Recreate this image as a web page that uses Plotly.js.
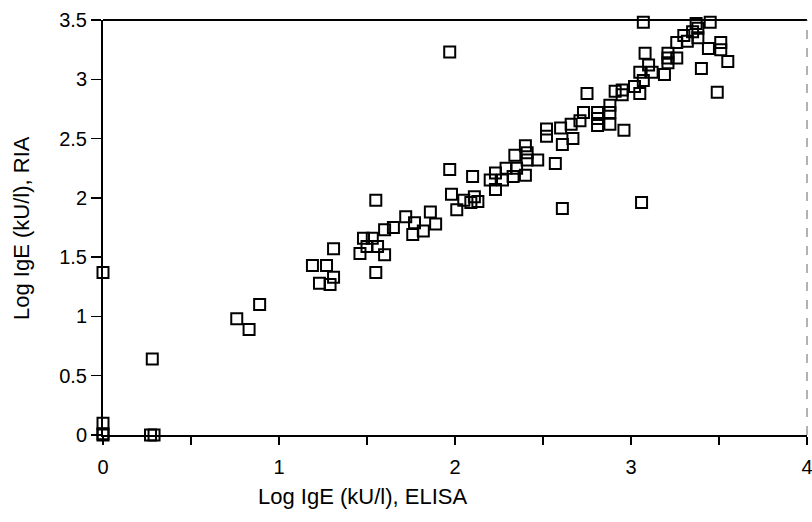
<!DOCTYPE html>
<html>
<head>
<meta charset="utf-8">
<script src="https://cdn.plot.ly/plotly-3.0.1.min.js"></script>
<style>html,body{margin:0;padding:0;background:#fff;}#chart{width:812px;height:522px;}</style>
</head>
<body>
<div id="chart"></div>
<script>
// Log IgE ELISA (x) vs Log IgE RIA (y)
const elisa = [0, 0, 0, 0, 0.28, 0.27, 0.29, 0.76, 0.83, 0.89,
  1.19, 1.27, 1.31, 1.31, 1.23, 1.29, 1.55, 1.48, 1.53, 1.50,
  1.56, 1.46, 1.55, 1.60, 1.60, 1.65, 1.72, 1.77, 1.76, 1.82,
  1.86, 1.89, 1.97, 1.98, 2.01, 2.05, 2.09, 2.11, 2.13, 2.10,
  2.23, 2.20, 2.23, 2.27, 2.29, 2.33, 2.35, 2.40, 2.34, 2.40,
  2.41, 2.41, 2.47, 2.57, 2.52, 2.52, 2.60, 2.61, 2.67, 2.66,
  2.71, 2.73, 2.81, 2.81, 2.81, 2.88, 2.96, 2.88, 2.88, 2.75,
  2.91, 2.95, 2.95, 3.05, 3.02, 3.07, 3.05, 3.12, 3.19, 3.10,
  3.08, 3.21, 3.21, 3.26, 3.21, 3.40, 3.49, 3.55, 3.51, 3.44,
  3.51, 3.26, 3.32, 3.38, 3.30, 3.35, 3.38, 3.37, 3.45, 3.07,
  1.97, 3.06, 2.61];
const ria = [1.37, 0.10, 0.01, 0.0, 0.64, 0.0, 0.0, 0.98, 0.89, 1.10,
  1.43, 1.43, 1.57, 1.33, 1.28, 1.27, 1.98, 1.66, 1.66, 1.59,
  1.59, 1.53, 1.37, 1.52, 1.73, 1.75, 1.84, 1.79, 1.69, 1.72,
  1.88, 1.78, 2.24, 2.03, 1.90, 1.98, 1.96, 2.01, 1.97, 2.18,
  2.07, 2.15, 2.21, 2.15, 2.25, 2.18, 2.25, 2.19, 2.36, 2.44,
  2.38, 2.32, 2.32, 2.29, 2.58, 2.52, 2.59, 2.45, 2.50, 2.62,
  2.65, 2.72, 2.72, 2.67, 2.61, 2.62, 2.57, 2.78, 2.72, 2.88,
  2.90, 2.91, 2.87, 2.88, 2.94, 2.99, 3.06, 3.06, 3.04, 3.12,
  3.22, 3.22, 3.18, 3.18, 3.14, 3.09, 2.89, 3.15, 3.31, 3.26,
  3.25, 3.31, 3.32, 3.35, 3.37, 3.40, 3.43, 3.47, 3.48, 3.48,
  3.23, 1.96, 1.91];

const xTickVals = [0, 0.5, 1, 1.5, 2, 2.5, 3, 3.5, 4];
const xTickText = ['0', '', '1', '', '2', '', '3', '', '4'];
const yTickVals = [0, 0.5, 1, 1.5, 2, 2.5, 3, 3.5];
const yTickText = ['0', '0.5', '1', '1.5', '2', '2.5', '3', '3.5'];
const xTitle = 'Log IgE (kU/l), ELISA';
const yTitle = 'Log IgE (kU/l), RIA';

const font = 'Liberation Sans, Arial, Helvetica, sans-serif';

const trace = {
  x: elisa, y: ria, type: 'scatter', mode: 'markers',
  cliponaxis: false,
  marker: {symbol: 'square-open', size: 11, color: '#000', line: {width: 2, color: '#000'}},
  hoverinfo: 'x+y'
};

const layout = {
  width: 812, height: 522,
  margin: {l: 103, r: 5, t: 20, b: 87},
  paper_bgcolor: '#fff', plot_bgcolor: '#fff',
  showlegend: false,
  font: {family: font, color: '#000', size: 20},
  xaxis: {
    range: [0, 4], tickmode: 'array', tickvals: xTickVals, ticktext: xTickText,
    showgrid: false, zeroline: false, showline: true, linecolor: '#000', linewidth: 2,
    ticks: 'outside', ticklen: 8, tickwidth: 2, tickcolor: '#000',
    ticklabelstandoff: 5, ticklabeloverflow: 'allow',
    tickfont: {family: font, size: 20, color: '#000'}
  },
  yaxis: {
    range: [0, 3.5], tickmode: 'array', tickvals: yTickVals, ticktext: yTickText,
    showgrid: false, zeroline: false, showline: true, linecolor: '#000', linewidth: 2,
    ticks: 'outside', ticklen: 10, tickwidth: 1.5, tickcolor: '#000',
    ticklabeloverflow: 'allow',
    tickfont: {family: font, size: 20, color: '#000'}
  },
  shapes: [
    {type: 'line', xref: 'paper', yref: 'paper', x0: 0, x1: 1, y0: 1, y1: 1,
     line: {color: '#000', width: 2}},
    {type: 'line', xref: 'paper', yref: 'paper', x0: 1, x1: 1, y0: 0, y1: 1,
     line: {color: '#666', width: 1, dash: 'dash'}}
  ],
  annotations: [
    {text: xTitle, xref: 'paper', yref: 'paper', x: 0.368, y: -0.149,
     xanchor: 'center', yanchor: 'middle', showarrow: false,
     font: {family: font, size: 22, color: '#000'}},
    {text: yTitle, xref: 'paper', yref: 'paper', x: -0.115, y: 0.499,
     xanchor: 'center', yanchor: 'middle', showarrow: false, textangle: -90,
     font: {family: font, size: 22, color: '#000'}}
  ]
};

Plotly.newPlot('chart', [trace], layout, {displayModeBar: false, staticPlot: true});
</script>
</body>
</html>
